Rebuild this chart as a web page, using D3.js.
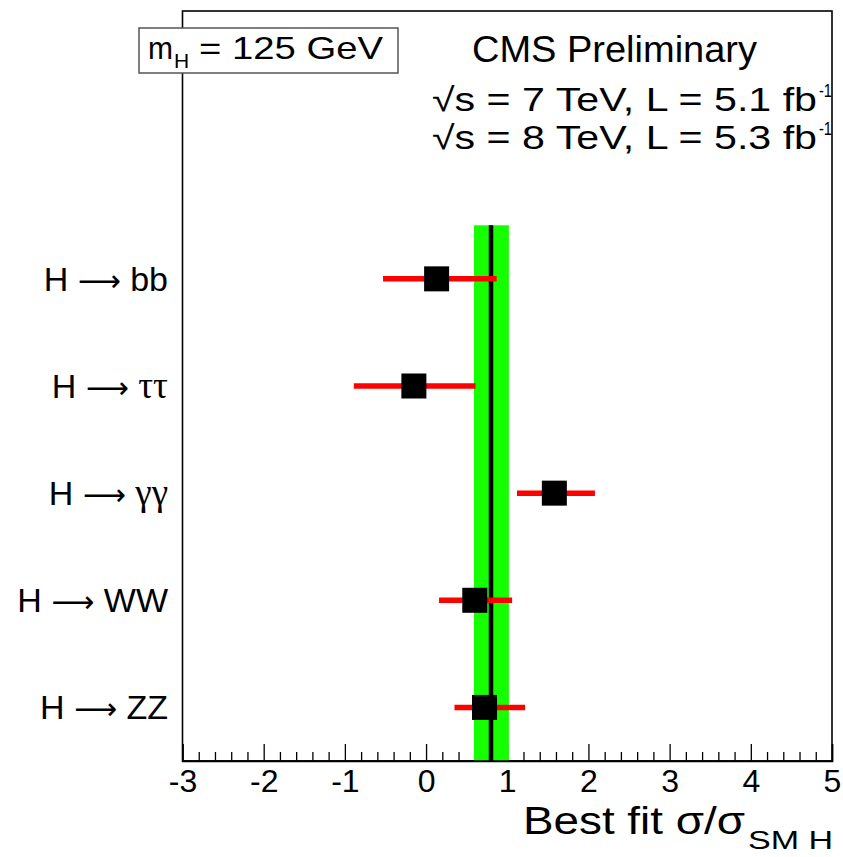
<!DOCTYPE html>
<html><head><meta charset="utf-8">
<script src="https://cdn.jsdelivr.net/npm/d3@7"></script>
<style>
html,body{margin:0;padding:0;background:#fff;}
text{font-family:"Liberation Sans",Arial,Helvetica,sans-serif;fill:#000;}
</style></head>
<body><svg id="c" width="843" height="857"></svg>
<script>
// ---- data ----
const channels = ["bb", "ττ", "γγ", "WW", "ZZ"];
const bestFit  = [0.13, -0.15, 1.58, 0.60, 0.72];
const errLow   = [-0.53, -0.89, 1.12, 0.16, 0.35];
const errHigh  = [0.87, 0.61, 2.08, 1.06, 1.22];
const combined = 0.80;
const combinedLow = 0.59;
const combinedHigh = 1.02;
const xTicks = [-3, -2, -1, 0, 1, 2, 3, 4, 5];
const xTickLabels = ["-3", "-2", "-1", "0", "1", "2", "3", "4", "5"];

const svg = d3.select("#c");
const L = 182.5, R = 832, T = 11, B = 761;
const x = d3.scaleLinear().domain([-3, 5]).range([L, R]);
const y = d3.scaleLinear().domain([0, 7]).range([B, T]);
const rowPos = i => y(channels.length - i - 0.5);

// frame
svg.append("rect").attr("x", L).attr("y", T).attr("width", R - L).attr("height", B - T)
  .attr("fill", "none").attr("stroke", "#000").attr("stroke-width", 1.6);

// minor ticks
const minor = d3.range(-3, 5.0001, 0.2).map(v => +v.toFixed(1)).filter(v => !Number.isInteger(v));
svg.append("g").attr("transform", `translate(0,${B})`)
  .call(d3.axisBottom(x).tickValues(minor).tickSize(-9).tickFormat(""))
  .call(g => { g.select(".domain").remove(); g.selectAll("line").attr("stroke-width", 1.3); });
// major ticks + labels
svg.append("g").attr("transform", `translate(0,${B})`)
  .call(d3.axisBottom(x).tickValues(xTicks).tickSize(-17).tickPadding(8)
        .tickFormat((d, i) => xTickLabels[i]))
  .call(g => {
    g.select(".domain").attr("stroke-width", 1.6);
    g.selectAll("line").attr("stroke-width", 1.3);
    g.selectAll("text").attr("font-size", 32).attr("font-family", '"Liberation Sans",Arial,sans-serif').attr("fill", "#000");
  });

// combined band and line
svg.append("rect").attr("x", x(combinedLow)).attr("y", y(5)).attr("width", x(combinedHigh) - x(combinedLow))
  .attr("height", y(0) - y(5)).attr("fill", "#15ff00");
svg.append("line").attr("x1", x(combined)).attr("x2", x(combined)).attr("y1", y(5)).attr("y2", y(0))
  .attr("stroke", "#000").attr("stroke-width", 4.5);
// redraw bottom axis line over band
svg.append("line").attr("x1", L).attr("x2", R).attr("y1", B).attr("y2", B).attr("stroke", "#000").attr("stroke-width", 1.6);

// error bars
svg.append("g").selectAll("line").data(channels).join("line")
  .attr("x1", (d, i) => x(errLow[i])).attr("x2", (d, i) => x(errHigh[i]))
  .attr("y1", (d, i) => rowPos(i)).attr("y2", (d, i) => rowPos(i))
  .attr("stroke", "#ff0000").attr("stroke-width", 5.5);
// points
const S = 25;
svg.append("g").selectAll("rect").data(channels).join("rect")
  .attr("x", (d, i) => x(bestFit[i]) - S / 2).attr("y", (d, i) => rowPos(i) - S / 2)
  .attr("width", S).attr("height", S).attr("fill", "#000");

// channel labels
const lab = svg.append("g").selectAll("text").data(channels).join("text")
  .attr("x", 168).attr("y", (d, i) => rowPos(i) + 12).attr("text-anchor", "end").attr("font-size", 34);
lab.append("tspan").text("H ");
lab.append("tspan").attr("font-family", '"DejaVu Sans",sans-serif').attr("font-size", 30).text("⟶");
lab.append("tspan").text(" ");
lab.append("tspan").attr("font-family", d => /[τγ]/.test(d) ? '"Liberation Serif",serif' : null)
  .attr("font-size", d => /[τγ]/.test(d) ? 37 : null).text(d => d);

// mH box
svg.append("rect").attr("x", 139).attr("y", 28).attr("width", 259).attr("height", 45)
  .attr("fill", "#fff").attr("stroke", "#555").attr("stroke-width", 1.5);
svg.append("text").attr("x", 148).attr("y", 59).attr("font-size", 32)
  .attr("textLength", 25).attr("lengthAdjust", "spacingAndGlyphs").text("m");
svg.append("text").attr("x", 174).attr("y", 68).attr("font-size", 21).text("H");
svg.append("text").attr("x", 199).attr("y", 59).attr("font-size", 32)
  .attr("textLength", 184).attr("lengthAdjust", "spacingAndGlyphs").text("= 125 GeV");

// CMS text
svg.append("text").attr("x", 472).attr("y", 62).attr("font-size", 36)
  .attr("textLength", 285).attr("lengthAdjust", "spacingAndGlyphs").text("CMS Preliminary");
function lumi(yy, e, l) {
  svg.append("text").attr("x", 432).attr("y", yy).attr("font-size", 33)
    .attr("textLength", 385).attr("lengthAdjust", "spacingAndGlyphs").text(`√s = ${e} TeV, L = ${l} fb`);
  svg.append("text").attr("x", 819).attr("y", yy - 14).attr("font-size", 19)
    .attr("textLength", 13).attr("lengthAdjust", "spacingAndGlyphs").text("-1");
}
lumi(111, 7, "5.1");
lumi(149, 8, "5.3");

// x title
svg.append("text").attr("x", 523).attr("y", 834).attr("font-size", 39)
  .attr("textLength", 222).attr("lengthAdjust", "spacingAndGlyphs").text("Best fit σ/σ");
svg.append("text").attr("x", 748).attr("y", 849).attr("font-size", 26)
  .attr("textLength", 85).attr("lengthAdjust", "spacingAndGlyphs").text("SM H");
</script></body></html>
